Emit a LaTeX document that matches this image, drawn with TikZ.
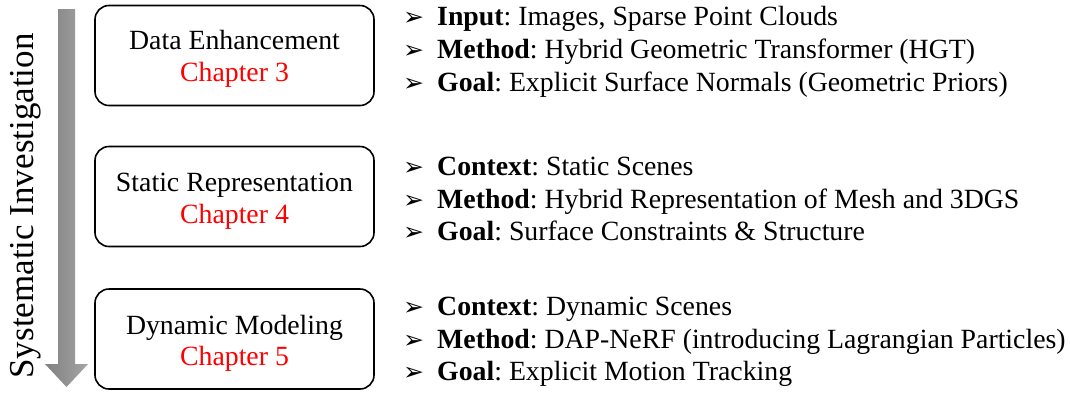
\documentclass[tikz,border=0pt]{standalone}
\usepackage{fontspec}
\setmainfont{Liberation Serif}
\newfontfamily\bulletfont{DejaVu Sans}
\definecolor{chapred}{RGB}{255,0,0}
\definecolor{arrowdark}{RGB}{128,128,128}
\definecolor{arrowlight}{RGB}{165,165,165}
\begin{document}
\frenchspacing
\begin{tikzpicture}[x=1pt,y=-1pt,
  stagebox/.style={draw=black, line width=1.6pt, rounded corners=14pt, minimum width=279pt, minimum height=100pt, inner sep=0pt},
  txt/.style={inner sep=0pt, font=\fontsize{27.8}{33}\selectfont},
  boxtitle/.style={txt, anchor=base},
  chap/.style={txt, anchor=base, text=chapred},
  item/.style={txt, anchor=base west},
  bul/.style={inner sep=0pt, anchor=base west, font=\bulletfont\fontsize{25}{28}\selectfont}]
\useasboundingbox (0,0) rectangle (1070,392);

% progress arrow
\shade[left color=arrowdark, right color=arrowlight]
  (58,9) -- (75,9) -- (75,364) -- (88,364) -- (66.5,387) -- (45,364) -- (58,364) -- cycle;
\node[txt, font=\fontsize{35}{40}\selectfont, rotate=90, anchor=base] (si) at (33,206) {Systematic Investigation};

% boxes
\node[stagebox] (b1) at (234.5,55.5) {};
\node[boxtitle] (t1) at (234.5,49) {Data Enhancement};
\node[chap] (c1) at (234.5,81) {Chapter 3};

\node[stagebox] (b2) at (234.5,196.5) {};
\node[boxtitle] (t2) at (234.5,191) {Static Representation};
\node[chap] (c2) at (234.5,223) {Chapter 4};

\node[stagebox] (b3) at (234.5,339) {};
\node[boxtitle] (t3) at (234.5,334) {Dynamic Modeling};
\node[chap] (c3) at (234.5,365) {Chapter 5};

% group 1
\node[bul] (k11) at (403,25) {➢};
\node[item] (i11) at (437,25) {\textbf{Input}: Images, Sparse Point Clouds};
\node[bul] (k12) at (403,58) {➢};
\node[item] (i12) at (437,58) {\textbf{Method}: Hybrid Geometric Transformer (HGT)};
\node[bul] (k13) at (403,91) {➢};
\node[item] (i13) at (437,91) {\textbf{Goal}: Explicit Surface Normals (Geometric Priors)};

% group 2
\node[bul] (k21) at (403,175) {➢};
\node[item] (i21) at (437,175) {\textbf{Context}: Static Scenes};
\node[bul] (k22) at (403,208) {➢};
\node[item] (i22) at (437,208) {\textbf{Method}: Hybrid Representation of Mesh and 3DGS};
\node[bul] (k23) at (403,240) {➢};
\node[item] (i23) at (437,240) {\textbf{Goal}: Surface Constraints \& Structure};

% group 3
\node[bul] (k31) at (403,315) {➢};
\node[item] (i31) at (437,315) {\textbf{Context}: Dynamic Scenes};
\node[bul] (k32) at (403,348) {➢};
\node[item] (i32) at (437,348) {\textbf{Method}: DAP-NeRF (introducing Lagrangian Particles)};
\node[bul] (k33) at (403,380) {➢};
\node[item] (i33) at (437,380) {\textbf{Goal}: Explicit Motion Tracking};
\end{tikzpicture}
\end{document}
